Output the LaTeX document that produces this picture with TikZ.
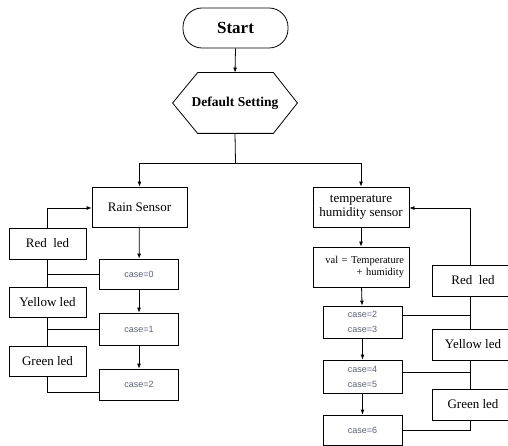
\documentclass[tikz,border=0pt]{standalone}
\usepackage{fontspec}
\setmainfont{Liberation Serif}
\setsansfont{Liberation Sans}
\usepackage{tikz}
\usetikzlibrary{arrows.meta}
\definecolor{casegray}{rgb}{0.36,0.38,0.46}

\begin{document}
\begin{tikzpicture}[x=1pt,y=-1pt,line width=0.8pt,
    box/.style={draw,rectangle,inner sep=1pt,align=center,font=\fontsize{13}{14}\selectfont},
    casebox/.style={box,minimum width=79pt,font=\sffamily\fontsize{9}{15}\selectfont,text=casegray},
    ledbox/.style={box,minimum width=77pt,minimum height=31pt},
    arr/.style={-{Latex[length=5pt,width=4pt]}}]
  \useasboundingbox (0,0) rectangle (508,446);
  \clip (0,0) rectangle (508,446);
  % 开始与初始化
  \node[draw,rounded corners=19pt,minimum width=105pt,minimum height=40pt,
        font=\bfseries\fontsize{17}{20}\selectfont] (start) at (235.5,28) {Start};
  \node[minimum width=124pt,minimum height=60pt,
        font=\bfseries\fontsize{13.5}{16}\selectfont] (setting) at (235,103) {Default Setting};
  \draw (setting.west) -- ([xshift=25pt]setting.north west) -- ([xshift=-24pt]setting.north east)
        -- (setting.east) -- ([xshift=-24pt]setting.south east) -- ([xshift=25pt]setting.south west) -- cycle;
  % 左侧：雨水传感器
  \node[box,minimum width=95pt,minimum height=40pt] (rain) at (139.5,207) {Rain Sensor};
  \node[casebox,minimum height=30pt] (case0) at (139,274) {case=0};
  \node[casebox,minimum height=32pt] (case1) at (139,329) {case=1};
  \node[casebox,minimum height=31pt] (case2) at (139,384.5) {case=2};
  \node[ledbox] (redL) at (47.5,243.5) {Red~ led};
  \node[ledbox,minimum height=30pt] (yellowL) at (47.5,302) {Yellow led};
  \node[ledbox,minimum height=30pt] (greenL) at (47.5,361) {Green led};
  % 右侧：温湿度传感器
  \node[box,minimum width=96pt,minimum height=40pt] (th) at (361,207) {temperature\\humidity sensor};
  \node[draw,rectangle,minimum width=96pt,minimum height=40pt,inner xsep=5pt,text width=86pt,
        align=right,font=\fontsize{10.5}{11.5}\selectfont] (val) at (361,267) {val = Temperature\\+ humidity};
  \node[casebox,minimum height=32pt] (c23) at (362.5,322) {case=2\\case=3};
  \node[casebox,minimum height=33pt] (c45) at (362.5,376.5) {case=4\\case=5};
  \node[casebox,minimum height=30pt] (c6) at (362.5,430) {case=6};
  \node[ledbox,minimum width=82pt] (redR) at (473,280.5) {Red~ led};
  \node[ledbox,minimum width=82pt] (yellowR) at (473,344.5) {Yellow led};
  \node[ledbox,minimum width=82pt] (greenR) at (473,404.5) {Green led};
  % 连线
  \coordinate (split) at (235.5,163);
  \draw[arr] (start.south) -- (setting.north);
  \draw (setting.south) -- (split);
  \draw[arr] (split) -| (rain.north);
  \draw[arr] (split) -| (th.north);
  \draw[arr] (rain) -- (case0);
  \draw[arr] (case0) -- (case1);
  \draw[arr] (case1) -- (case2);
  \draw[arr] (redL.north) |- ([yshift=-1pt]rain.west);
  \draw (redL) -- (yellowL);
  \draw (yellowL) -- (greenL);
  \draw (case0.west) -- (case0.west -| redL.south);
  \draw (case1.west) -- (case1.west -| yellowL.south);
  \coordinate (t2) at ([yshift=-7.5pt]case2.west);
  \draw (greenL.south) |- (t2);
  \draw[arr] (th) -- (val);
  \draw[arr] (val) -- (c23);
  \draw[arr] (c23) -- (c45);
  \draw[arr] (c45) -- (c6);
  \draw[arr] ([xshift=-3pt]redR.north) |- ([yshift=-1pt]th.east);
  \draw ([xshift=-3pt]redR.south) -- ([xshift=-3pt]yellowR.north);
  \draw ([xshift=-3pt]yellowR.south) -- ([xshift=-3pt]greenR.north);
  \coordinate (t23) at ([yshift=7pt]c23.east);
  \coordinate (t45) at ([yshift=4.5pt]c45.east);
  \draw (t23) -- ([xshift=-3pt]t23 -| redR.south);
  \draw (t45) -- ([xshift=-3pt]t45 -| yellowR.south);
  \draw ([xshift=-3pt]greenR.south) |- (c6.east);
\end{tikzpicture}
\end{document}
